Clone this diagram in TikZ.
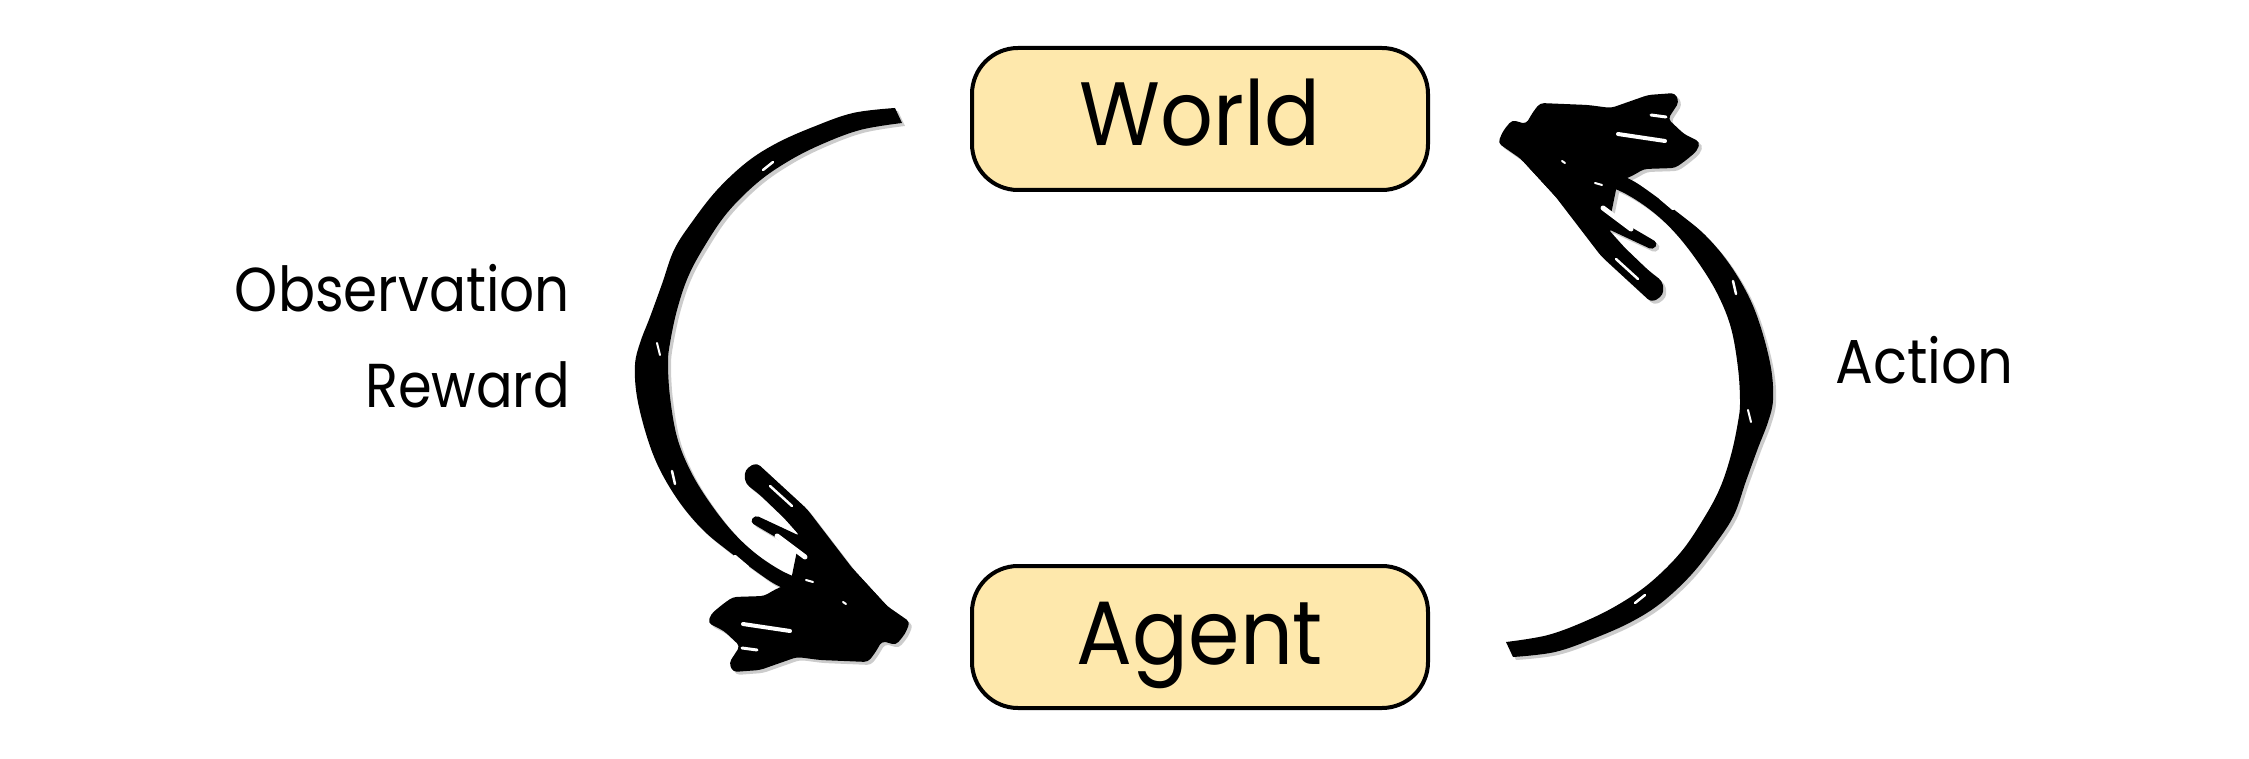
\documentclass[tikz,border=0pt]{standalone}
\usepackage{fontspec}
\setmainfont{Poppins}
\usepackage{graphicx}
\definecolor{boxfill}{RGB}{254,232,172}
\newcommand\brushshape[1]{%
  \fill[#1] plot[smooth, tension=0.6] coordinates {(895,108) (853,113) (813,127) (777,143) (747,162) (717,190) (692,222) (674,250) (662,284) (650,317) (640,343) (635,365) (637,397) (647,437) (660,470) (680,503) (703,530) (727,550) (750,567) (773,583) (792,592)}
    -- plot[smooth, tension=0.6] coordinates {(808,582) (782,571) (755,553) (731,530) (708,500) (690,470) (677,437) (670,397) (668,363) (670,343) (677,310) (688,277) (704,247) (727,213) (757,183) (787,162) (820,145) (860,130) (902,123)} -- cycle;
  \fill[#1, rounded corners=4pt] (748,467) -- (757,463) -- (807,509) -- (853,569) -- (887,606) -- (900,615) -- (910,622) -- (905,634) -- (896,645) -- (882,641) -- (875,653) -- (868,662) -- (820,660) -- (797,657) -- (760,670) -- (733,672) -- (729,663) -- (740,646) -- (724,631) -- (708,623) -- (711,614) -- (723,604) -- (733,597) -- (764,596) -- (776,589) -- (798,580) -- (812,564) -- (796,549) -- (760,528) -- (750,522) -- (755,515) -- (800,536) -- (784,518) -- (760,495) -- (746,484) -- (744,474) -- cycle;
  \fill[#1] (800,536) -- (853,569) -- (887,606) -- (860,640) -- (790,585) -- cycle;
}
\newcommand\brushdetail{%
  \begin{scope}[white, line cap=round]
    \draw[line width=2.5pt] (763,170) -- (773,162);
    \draw[line width=2pt] (657,343) -- (660,355);
    \draw[line width=2.5pt] (672,471) -- (675,484);
    \draw[line width=2.5pt] (735,556) -- (748,567);
    \draw[line width=2pt] (757,575) -- (764,579);
    \draw[line width=2.5pt] (770,486) -- (792,506);
    \draw[line width=5pt] (777,536) -- (805,557);
    \draw[line width=4pt] (743,624) -- (790,631);
    \draw[line width=3pt] (742,648) -- (757,650);
    \draw[line width=2pt] (806,580) -- (813,582);
    \draw[line width=2pt] (843,602) -- (846,604);
  \end{scope}
}
\begin{document}
\begin{tikzpicture}[x=1pt, y=-1pt,
  box/.style={draw=black, line width=4pt, fill=boxfill, rounded corners=46pt,
    minimum width=456pt, minimum height=142pt, inner sep=0pt,
    text height=54pt, text depth=0pt, font=\fontsize{90}{100}\selectfont},
  lbl/.style={inner sep=0pt, font=\fontsize{62}{70}\selectfont}]
\useasboundingbox (0,0) rectangle (2249,759);

% left arrow (World -> Agent)
\begin{scope}[shift={(3,3)}]\brushshape{black!20}\end{scope}
\brushshape{black}
\brushdetail

% right arrow (Agent -> World), point-symmetric copy
\begin{scope}[shift={(3,3)}]
  \begin{scope}[rotate around={180:(1204,382.5)}]\brushshape{black!20}\end{scope}
\end{scope}
\begin{scope}[rotate around={180:(1204,382.5)}]
  \brushshape{black}
  \brushdetail
\end{scope}

\node[box] (world) at (1200,119) {\scalebox{0.92}[1]{World}};
\node[box] (agent) at (1200,637) {\scalebox{0.92}[1]{Agent}};

\node[lbl, anchor=base east] (obs) at (570,312) {\scalebox{0.885}[1]{Observation}};
\node[lbl, anchor=base east] (rew) at (570,407) {\scalebox{0.875}[1]{Reward}};
\node[lbl, anchor=base west] (act) at (1835,383) {\scalebox{0.905}[1]{Action}};
\end{tikzpicture}
\end{document}
